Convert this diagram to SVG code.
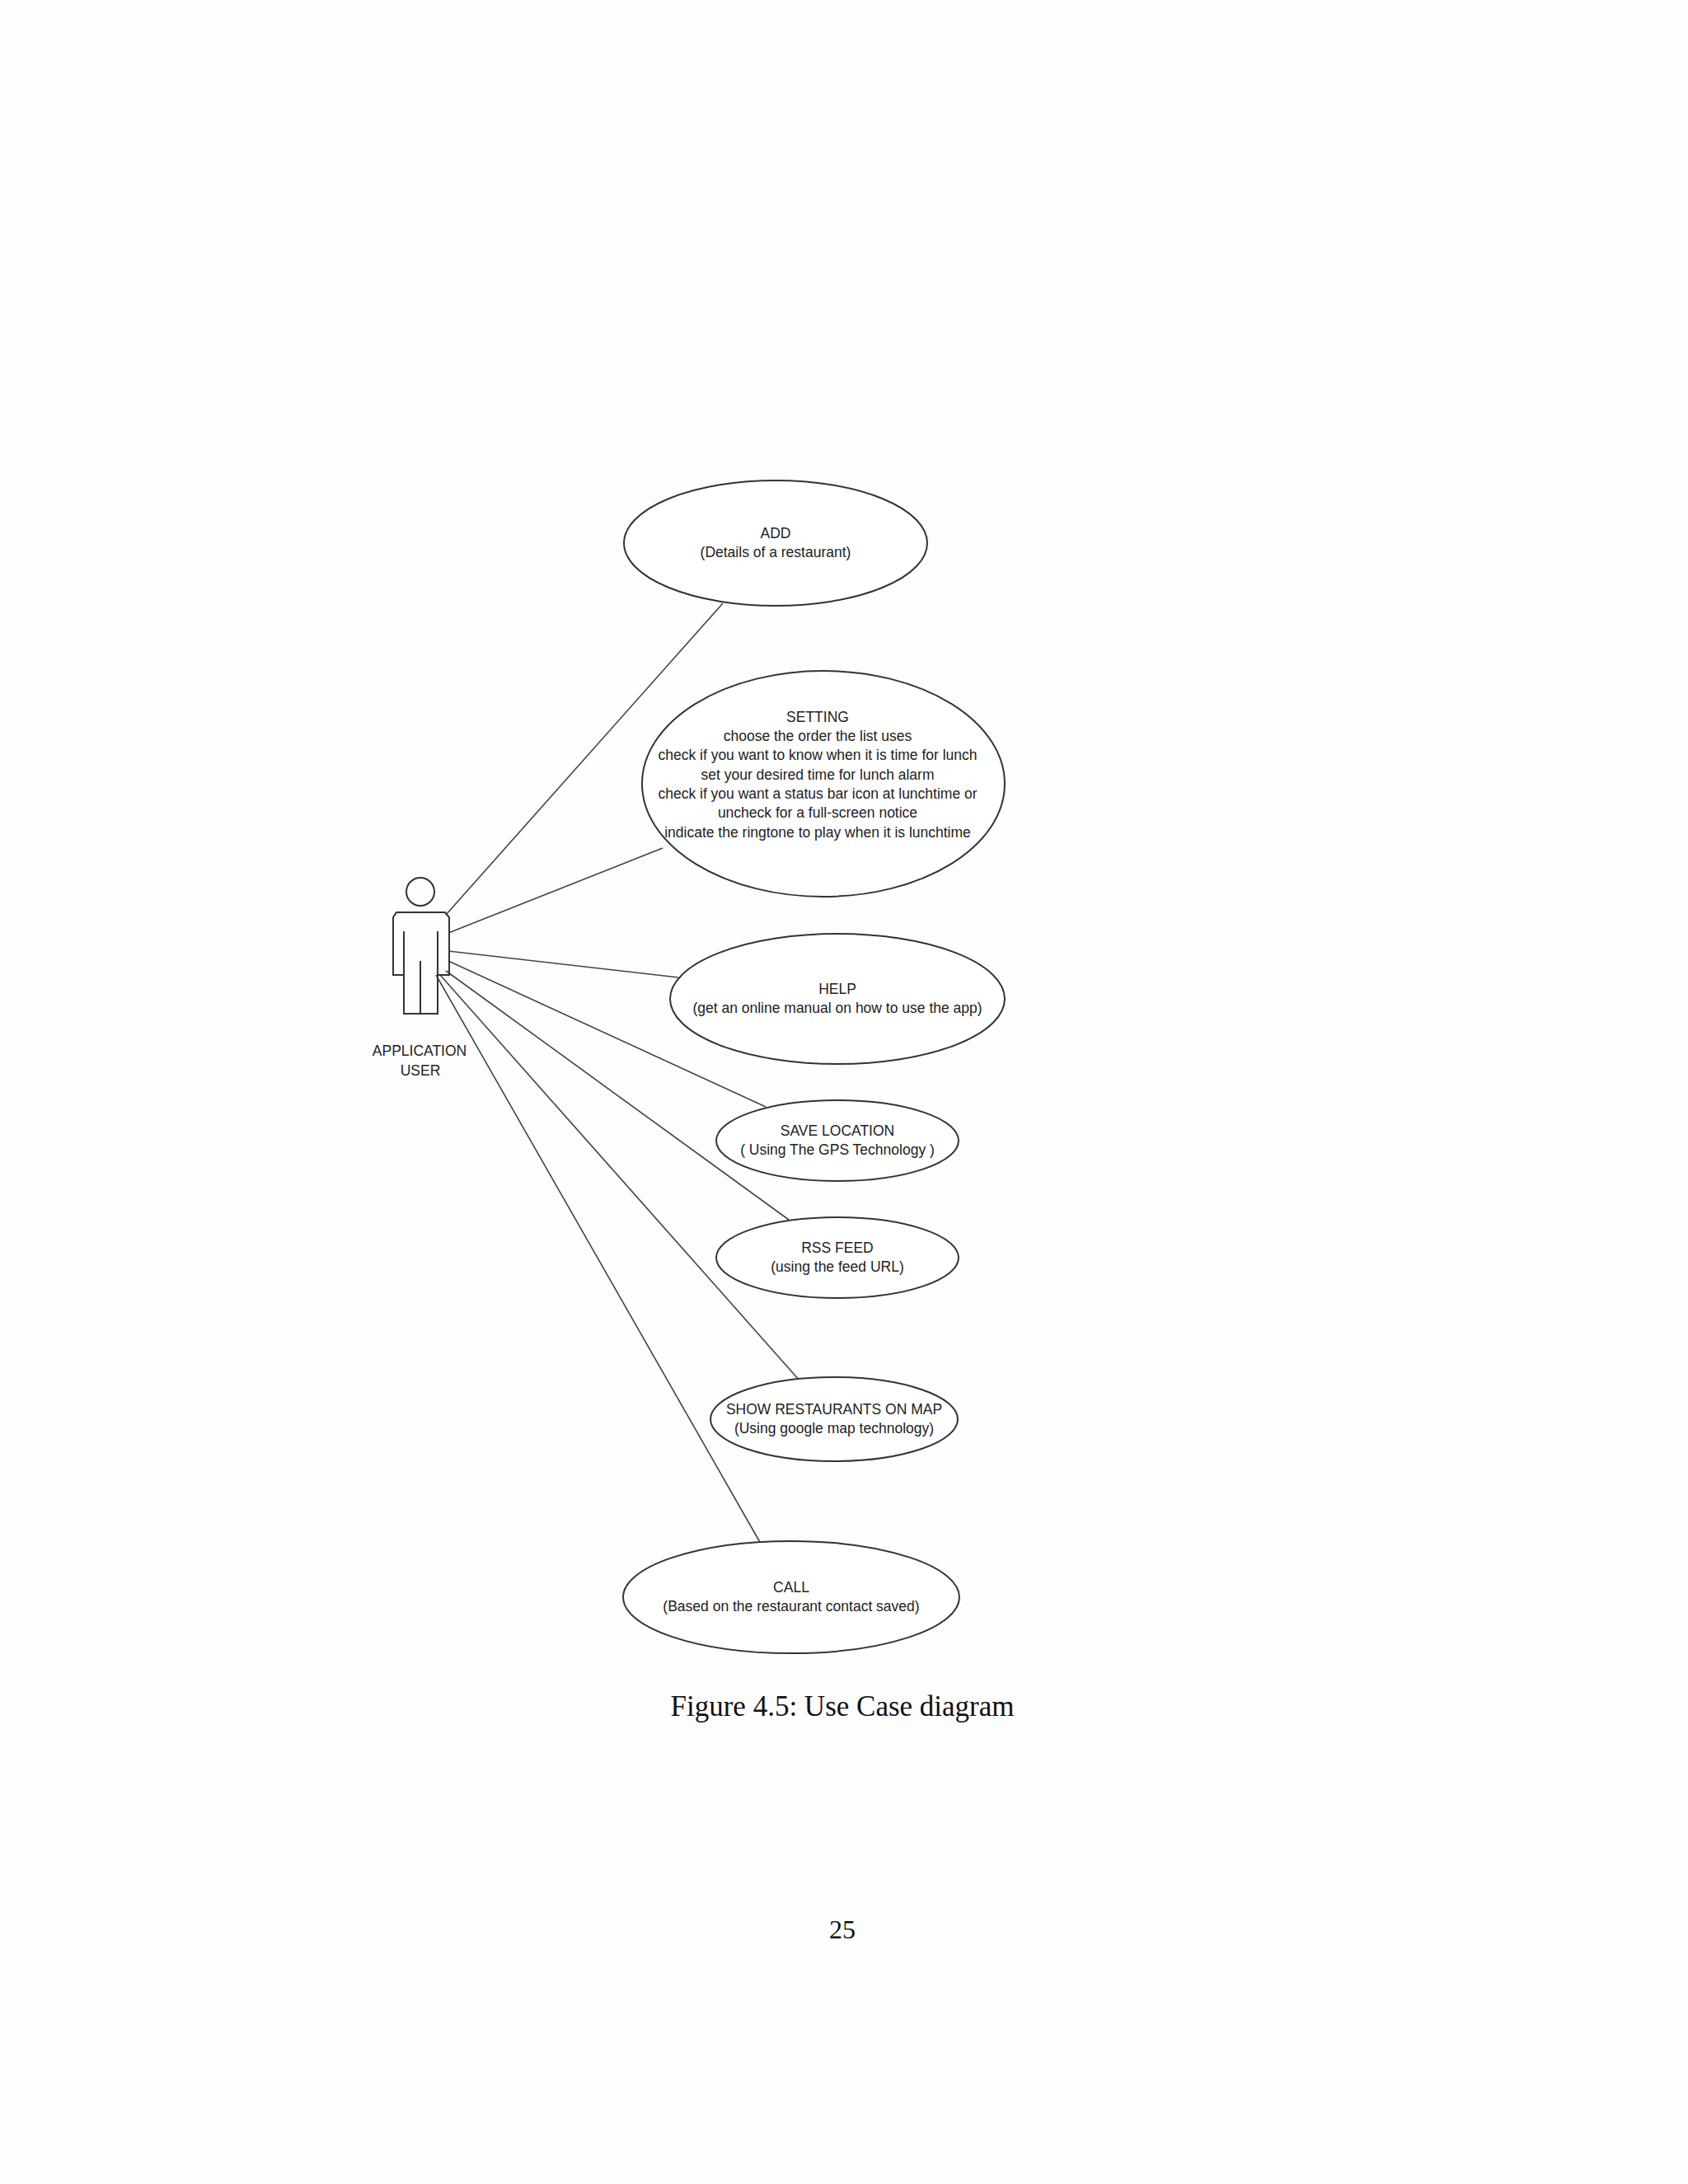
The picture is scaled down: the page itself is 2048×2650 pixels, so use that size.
<svg xmlns="http://www.w3.org/2000/svg" width="2048" height="2650" viewBox="0 0 2048 2650">
<style>
.u{fill:#fff;stroke:#333;stroke-width:2}
.t{font-family:"Liberation Sans",Arial,sans-serif;font-size:17.5px;fill:#222;text-anchor:middle}
.c line{stroke:#444;stroke-width:1.6}
.a{fill:none;stroke:#333;stroke-width:2}
</style>
<rect width="2048" height="2650" fill="#fdfdfd"/>
<g class="c" id="connectors">
<line x1="541" y1="1110" x2="877" y2="732"/>
<line x1="544" y1="1132" x2="804" y2="1029"/>
<line x1="544" y1="1154" x2="823" y2="1186"/>
<line x1="544" y1="1166" x2="929" y2="1343"/>
<line x1="541" y1="1178" x2="957" y2="1480"/>
<line x1="534" y1="1183" x2="970" y2="1675"/>
<line x1="529" y1="1183" x2="923" y2="1873"/>
</g>
<g id="actor">
<circle class="a" cx="510" cy="1082" r="17"/>
<path class="a" d="M481 1107 H540 L545 1113 V1183 H531 V1230 H490 V1183 H477 V1113 Z M490 1183 V1130 M531 1183 V1130 M510 1230 V1166"/>
<text class="t" x="509" y="1281">APPLICATION</text>
<text class="t" x="510" y="1305">USER</text>
</g>
<g id="add"><ellipse class="u" cx="941" cy="659" rx="184" ry="76"/>
<text class="t" x="941" y="653">ADD</text><text class="t" x="941" y="676">(Details of a restaurant)</text></g>
<g id="setting"><ellipse class="u" cx="999" cy="951" rx="220" ry="137"/>
<text class="t" x="992" y="876">SETTING</text>
<text class="t" x="992" y="899">choose the order the list uses</text>
<text class="t" x="992" y="922">check if you want to know when it is time for lunch</text>
<text class="t" x="992" y="946">set your desired time for lunch alarm</text>
<text class="t" x="992" y="969">check if you want a status bar icon at lunchtime or</text>
<text class="t" x="992" y="992">uncheck for a full-screen notice</text>
<text class="t" x="992" y="1016">indicate the ringtone to play when it is lunchtime</text></g>
<g id="help"><ellipse class="u" cx="1016" cy="1212" rx="203" ry="79"/>
<text class="t" x="1016" y="1206">HELP</text><text class="t" x="1016" y="1229">(get an online manual on how to use the app)</text></g>
<g id="save"><ellipse class="u" cx="1016" cy="1384" rx="147" ry="49"/>
<text class="t" x="1016" y="1378">SAVE LOCATION</text><text class="t" x="1016" y="1401">(  Using The GPS Technology )</text></g>
<g id="rss"><ellipse class="u" cx="1016" cy="1526" rx="147" ry="49"/>
<text class="t" x="1016" y="1520">RSS FEED</text><text class="t" x="1016" y="1543">(using the feed URL)</text></g>
<g id="map"><ellipse class="u" cx="1012" cy="1722" rx="150" ry="51"/>
<text class="t" x="1012" y="1716">SHOW RESTAURANTS ON MAP</text><text class="t" x="1012" y="1739">(Using google map technology)</text></g>
<g id="call"><ellipse class="u" cx="960" cy="1938" rx="204" ry="68"/>
<text class="t" x="960" y="1932">CALL</text><text class="t" x="960" y="1955">(Based on the restaurant contact saved)</text></g>
<text x="1022" y="2082" font-family="'Liberation Serif','Times New Roman',serif" font-size="35" text-anchor="middle" fill="#111">Figure 4.5: Use Case diagram</text>
<text x="1022" y="2352" font-family="'Liberation Serif','Times New Roman',serif" font-size="32" text-anchor="middle" fill="#111">25</text>
</svg>
